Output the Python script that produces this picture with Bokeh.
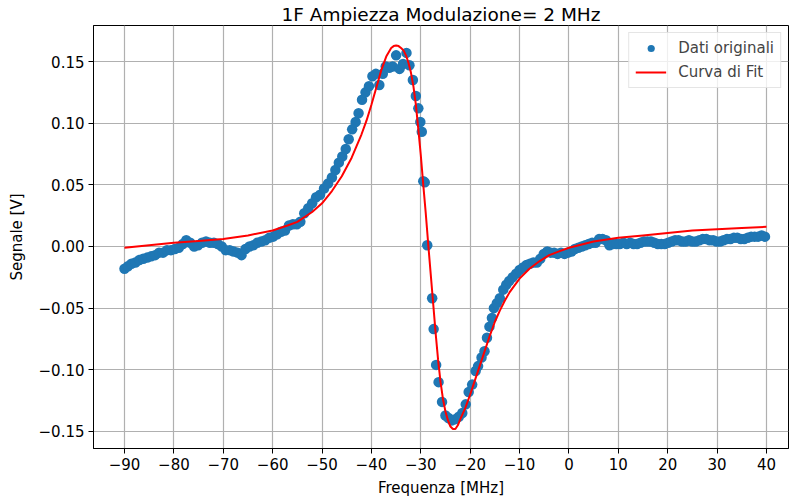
from bokeh.plotting import figure
from bokeh.models import ColumnDataSource, Legend, LegendItem, CustomJSTickFormatter, FixedTicker, Range1d
from bokeh.embed import file_html
from bokeh.resources import INLINE

title_text = "1F Ampiezza Modulazione= 2 MHz"
x_label = "Frequenza [MHz]"
y_label = "Segnale [V]"
x_ticks = [-90, -80, -70, -60, -50, -40, -30, -20, -10, 0, 10, 20, 30, 40]
y_ticks = [-0.15, -0.10, -0.05, 0.0, 0.05, 0.10, 0.15]

data_x = [
    -90.0, -89.3, -88.6, -87.8, -87.0, -86.2, -85.4, -84.6, -83.8, -83.0,
    -82.2, -81.4, -80.6, -79.8, -79.0, -78.2, -77.5, -76.7, -75.9, -75.1,
    -74.3, -73.5, -72.7, -71.9, -71.1, -70.3, -69.5, -68.7, -67.9, -67.1,
    -66.3, -65.5, -64.7, -63.9, -63.1, -62.3, -61.5, -60.7, -59.9, -59.1,
    -58.3, -57.5, -56.7, -55.9, -55.1, -54.4, -53.6, -52.8, -52.0, -51.2,
    -50.4, -49.6, -48.8, -48.0, -47.3, -46.6, -45.9, -45.2, -44.6, -43.9,
    -43.2, -42.6, -41.9, -41.2, -40.5, -39.8, -39.1, -38.4, -37.7, -37.1,
    -36.4, -35.7, -35.0, -34.3, -33.6, -32.9, -32.3, -31.6, -31.0, -30.5,
    -30.1, -29.8, -29.5, -29.2, -28.7, -27.7, -27.4, -26.9, -26.4, -25.7,
    -25.0, -24.4, -23.7, -23.0, -22.3, -21.6, -20.9, -20.3, -19.6, -18.9,
    -18.4, -17.7, -17.1, -16.6, -16.1, -15.6, -15.2, -14.6, -14.0, -13.3,
    -12.7, -12.1, -11.4, -10.7, -10.0, -9.3, -8.6, -7.9, -7.2, -6.5,
    -5.8, -5.1, -4.4, -3.7, -3.0, -2.3, -1.6, -0.9, -0.2, 0.5,
    1.2, 1.9, 2.6, 3.3, 4.0, 4.7, 5.4, 6.1, 6.8, 7.5,
    8.2, 8.9, 9.6, 10.3, 11.0, 11.7, 12.4, 13.1, 13.8, 14.5,
    15.2, 15.9, 16.6, 17.3, 18.0, 18.7, 19.4, 20.1, 20.8, 21.5,
    22.2, 22.9, 23.6, 24.3, 25.0, 25.7, 26.4, 27.1, 27.8, 28.5,
    29.2, 29.9, 30.6, 31.3, 32.0, 32.7, 33.4, 34.1, 34.8, 35.5,
    36.2, 36.9, 37.6, 38.3, 39.0, 39.7,
]
data_y = [
    -0.018, -0.016, -0.014, -0.013, -0.011, -0.010, -0.009, -0.008, -0.007, -0.005,
    -0.005, -0.003, -0.003, -0.002, -0.001, 0.002, 0.005, 0.003, 0.000, 0.001,
    0.003, 0.004, 0.003, 0.003, 0.002, 0.000, -0.003, -0.003, -0.004, -0.005,
    -0.007, -0.002, 0.000, 0.001, 0.003, 0.004, 0.005, 0.007, 0.008, 0.010,
    0.012, 0.013, 0.017, 0.018, 0.018, 0.020, 0.027, 0.031, 0.035, 0.040,
    0.042, 0.047, 0.051, 0.056, 0.062, 0.068, 0.073, 0.079, 0.087, 0.095,
    0.101, 0.108, 0.119, 0.125, 0.130, 0.138, 0.140, 0.131, 0.140, 0.146,
    0.145, 0.146, 0.155, 0.144, 0.148, 0.157, 0.147, 0.135, 0.122, 0.112,
    0.101, 0.093, 0.053, 0.052, 0.001, -0.042, -0.067, -0.096, -0.110, -0.126,
    -0.137, -0.139, -0.141, -0.140, -0.138, -0.135, -0.128, -0.118, -0.112, -0.101,
    -0.097, -0.090, -0.085, -0.074, -0.065, -0.058, -0.050, -0.046, -0.042, -0.035,
    -0.031, -0.028, -0.025, -0.022, -0.019, -0.017, -0.015, -0.014, -0.013, -0.013,
    -0.010, -0.006, -0.004, -0.005, -0.005, -0.006, -0.005, -0.006, -0.005, -0.004,
    -0.002, -0.001, 0.000, 0.001, 0.002, 0.003, 0.003, 0.006, 0.006, 0.005,
    0.001, 0.002, 0.002, 0.002, 0.003, 0.002, 0.003, 0.002, 0.002, 0.003,
    0.004, 0.004, 0.004, 0.003, 0.002, 0.002, 0.002, 0.003, 0.004, 0.005,
    0.005, 0.004, 0.004, 0.005, 0.004, 0.004, 0.005, 0.006, 0.006, 0.005,
    0.005, 0.004, 0.004, 0.005, 0.006, 0.006, 0.007, 0.007, 0.006, 0.006,
    0.007, 0.008, 0.008, 0.008, 0.009, 0.008,
]

fit_x = [
    -90, -85, -80, -75, -70, -65, -60, -57, -55, -52, -50, -48, -46, -44, -42,
    -41, -40, -39, -38, -37, -36, -35.5, -35, -34.5, -34, -33.5, -33, -32.5, -32,
    -31.5, -31, -30.5, -30, -29.5, -29, -28.5, -28, -27.5, -27, -26.5, -26,
    -25.5, -25, -24.5, -24, -23.5, -23, -22.5, -22, -21, -20, -19, -18, -17,
    -16, -15, -14, -13, -12, -10, -8, -6, -4, -2, 0, 5, 10, 15, 20, 25, 30, 35, 40,
]
fit_y = [
    -0.001, 0.001, 0.003, 0.0045, 0.006, 0.009, 0.013, 0.017, 0.020, 0.028, 0.035,
    0.045, 0.057, 0.072, 0.091,
    0.102, 0.115, 0.129, 0.143, 0.154, 0.161, 0.1625, 0.163, 0.1625, 0.161, 0.159,
    0.155, 0.149, 0.141,
    0.130, 0.115, 0.095, 0.074, 0.050, 0.027, 0.002, -0.022, -0.046, -0.070, -0.092, -0.110,
    -0.124, -0.134, -0.141, -0.146, -0.148, -0.148, -0.145, -0.140, -0.131, -0.120, -0.108, -0.096, -0.084,
    -0.072, -0.061, -0.052, -0.044, -0.037, -0.026, -0.018, -0.012, -0.007, -0.004, -0.001,
    0.004, 0.007, 0.009, 0.011, 0.013, 0.014, 0.015, 0.016,
]

FONT = "DejaVu Sans"

p = figure(
    width=790, height=503, output_backend="svg", toolbar_location=None,
    x_range=Range1d(-96.28, 44.46), y_range=Range1d(-0.1638, 0.1792),
    min_border_left=93, min_border_right=2, min_border_top=24, min_border_bottom=55,
    title=title_text,
)
p.background_fill_color = "white"
p.border_fill_color = "white"
p.title.align = "center"
p.title.text_font = FONT
p.title.text_font_size = "18.5px"
p.title.text_font_style = "normal"
p.title.text_color = "black"
p.title.standoff = 2

src = ColumnDataSource(dict(x=data_x, y=data_y))
fsrc = ColumnDataSource(dict(x=fit_x, y=fit_y))
sc = p.scatter("x", "y", source=src, size=10.5, color="#1f77b4", line_color=None)
ln = p.line("x", "y", source=fsrc, line_color="red", line_width=2)

p.xaxis.ticker = FixedTicker(ticks=x_ticks)
p.yaxis.ticker = FixedTicker(ticks=y_ticks)
p.xaxis.formatter = CustomJSTickFormatter(code="return (tick < 0 ? '\u2212' : '') + Math.abs(tick).toFixed(0);")
p.yaxis.formatter = CustomJSTickFormatter(code="return (tick < -1e-9 ? '\u2212' : '') + Math.abs(tick).toFixed(2);")
p.xaxis.axis_label = x_label
p.yaxis.axis_label = y_label
for ax in (p.xaxis, p.yaxis):
    ax.axis_label_text_font = FONT
    ax.axis_label_text_font_size = "15px"
    ax.axis_label_text_font_style = "normal"
    ax.axis_label_text_color = "black"
    ax.major_label_text_font = FONT
    ax.major_label_text_font_size = "15px"
    ax.major_label_text_color = "black"
    ax.major_tick_out = 5
    ax.major_tick_in = 0
    ax.minor_tick_line_color = None
    ax.axis_line_color = "black"
    ax.major_tick_line_color = "black"
    ax.major_label_standoff = 4
p.xaxis.axis_label_standoff = 6
p.yaxis.axis_label_standoff = 10

p.grid.grid_line_color = "#b0b0b0"
p.grid.grid_line_width = 1.2
p.outline_line_color = "black"
p.outline_line_width = 1

legend = Legend(
    items=[LegendItem(label="Dati originali", renderers=[sc]),
           LegendItem(label="Curva di Fit", renderers=[ln])],
    location="top_right",
)
legend.label_text_font = FONT
legend.label_text_font_size = "15px"
legend.glyph_width = 31
legend.glyph_height = 18
legend.label_height = 18
legend.label_standoff = 12
legend.spacing = 6
legend.padding = 6
legend.margin = 7
legend.border_line_color = "#cccccc"
legend.background_fill_alpha = 0.8
p.add_layout(legend)

open("out.html", "w").write(file_html(p, INLINE))
